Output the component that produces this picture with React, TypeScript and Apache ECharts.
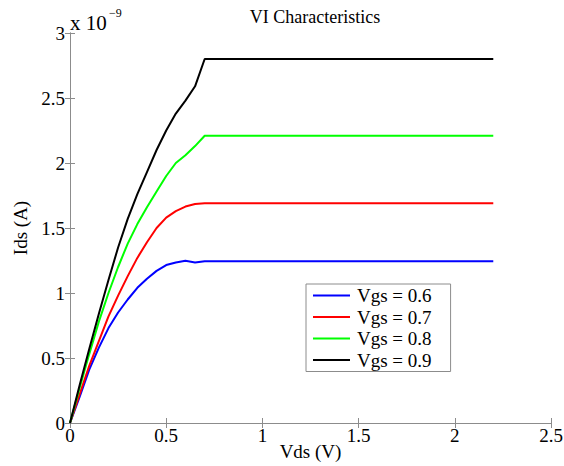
import React, { useEffect, useRef } from "react";
import * as echarts from "echarts";

// Drain-source voltage (V)
const vds = [0, 0.05, 0.1, 0.15, 0.2, 0.25, 0.3, 0.35, 0.4, 0.45, 0.5, 0.55, 0.6, 0.65, 0.7, 2.2];
// Drain current, in units of 1e-9 A
const ids06 = [0, 0.2, 0.41, 0.58, 0.73, 0.85, 0.95, 1.04, 1.11, 1.17, 1.215, 1.235, 1.248, 1.235, 1.245, 1.245];
const ids07 = [0, 0.22, 0.44, 0.63, 0.82, 0.98, 1.13, 1.27, 1.39, 1.5, 1.58, 1.63, 1.665, 1.685, 1.69, 1.69];
const ids08 = [0, 0.27, 0.53, 0.78, 1.0, 1.2, 1.38, 1.53, 1.66, 1.78, 1.9, 2.0, 2.06, 2.13, 2.21, 2.21];
const ids09 = [0, 0.29, 0.57, 0.84, 1.1, 1.35, 1.57, 1.76, 1.93, 2.1, 2.25, 2.38, 2.48, 2.59, 2.8, 2.8];

const seriesNames = ["Vgs = 0.6", "Vgs = 0.7", "Vgs = 0.8", "Vgs = 0.9"];
const seriesColors = ["#0000ff", "#ff0000", "#00ff00", "#000000"];
const seriesValues = [ids06, ids07, ids08, ids09];

const xTicks = { min: 0, max: 2.5, interval: 0.5 };
const yTicks = { min: 0, max: 3, interval: 0.5 };

const FONT = "Liberation Serif";
const AXIS_COLOR = "#8c8c8c";
const FS = 19;

export default function App() {
  const ref = useRef<HTMLDivElement>(null);
  useEffect(() => {
    document.body.style.margin = "0";
    const chart = echarts.init(ref.current!, null, { renderer: "svg" });
    const tickInside = { show: true, inside: true, length: 5, lineStyle: { color: AXIS_COLOR } };
    const axisLine = { show: true, lineStyle: { color: AXIS_COLOR, width: 1 } };
    chart.setOption({
      animation: false,
      backgroundColor: "#ffffff",
      title: {
        text: "VI Characteristics",
        left: 310,
        textAlign: "center",
        top: 3,
        textStyle: { fontFamily: FONT, fontSize: 18, fontWeight: "normal", color: "#000" },
      },
      grid: {
        left: 70,
        right: 13,
        top: 33,
        bottom: 43,
        containLabel: false,
        outerBoundsMode: "none",
      },
      legend: {
        orient: "vertical",
        left: 306,
        top: 284,
        padding: [2, 19, 2, 7],
        itemGap: 2.5,
        itemWidth: 37,
        itemHeight: 2,
        icon: "rect",
        borderColor: AXIS_COLOR,
        borderWidth: 1,
        backgroundColor: "#ffffff",
        data: seriesNames,
        textStyle: { fontFamily: FONT, fontSize: FS, color: "#000", padding: [0, 0, 0, 2] },
      },
      xAxis: [
        {
          type: "value",
          min: xTicks.min,
          max: xTicks.max,
          interval: xTicks.interval,
          name: "Vds (V)",
          nameLocation: "middle",
          nameGap: 19,
          nameMoveOverlap: false,
          nameTextStyle: { fontFamily: FONT, fontSize: FS, color: "#000" },
          axisLine,
          axisTick: tickInside,
          axisLabel: { fontFamily: FONT, fontSize: FS, color: "#000", margin: 3 },
          splitLine: { show: false },
        },
        {
          type: "value",
          position: "top",
          min: xTicks.min,
          max: xTicks.max,
          interval: xTicks.interval,
          axisLine,
          axisTick: tickInside,
          axisLabel: { show: false },
          splitLine: { show: false },
        },
      ],
      yAxis: [
        {
          type: "value",
          min: yTicks.min,
          max: yTicks.max,
          interval: yTicks.interval,
          name: "Ids (A)",
          nameLocation: "middle",
          nameGap: 39,
          nameTextStyle: { fontFamily: FONT, fontSize: FS, color: "#000" },
          axisLine,
          axisTick: tickInside,
          axisLabel: { fontFamily: FONT, fontSize: FS, color: "#000", margin: 5 },
          splitLine: { show: false },
        },
        {
          type: "value",
          position: "right",
          min: yTicks.min,
          max: yTicks.max,
          interval: yTicks.interval,
          axisLine,
          axisTick: tickInside,
          axisLabel: { show: false },
          splitLine: { show: false },
        },
      ],
      graphic: [
        {
          type: "text",
          left: 70,
          top: 12,
          style: { text: "x 10", fontFamily: FONT, fontSize: 21, fill: "#000" },
        },
        {
          type: "text",
          left: 109,
          top: 7,
          style: { text: "\u22129", fontFamily: FONT, fontSize: 12, fill: "#000" },
        },
      ],
      series: seriesNames.map((name, i) => ({
        name,
        type: "line",
        xAxisIndex: 0,
        yAxisIndex: 0,
        symbol: "none",
        smooth: false,
        lineStyle: { color: seriesColors[i], width: 2 },
        itemStyle: { color: seriesColors[i] },
        data: vds.map((x, j) => [x, seriesValues[i][j]]),
      })),
    });
    return () => chart.dispose();
  }, []);
  return (
    <div
      ref={ref}
      style={{ position: "absolute", left: 0, top: 0, width: 564, height: 466 }}
    />
  );
}
